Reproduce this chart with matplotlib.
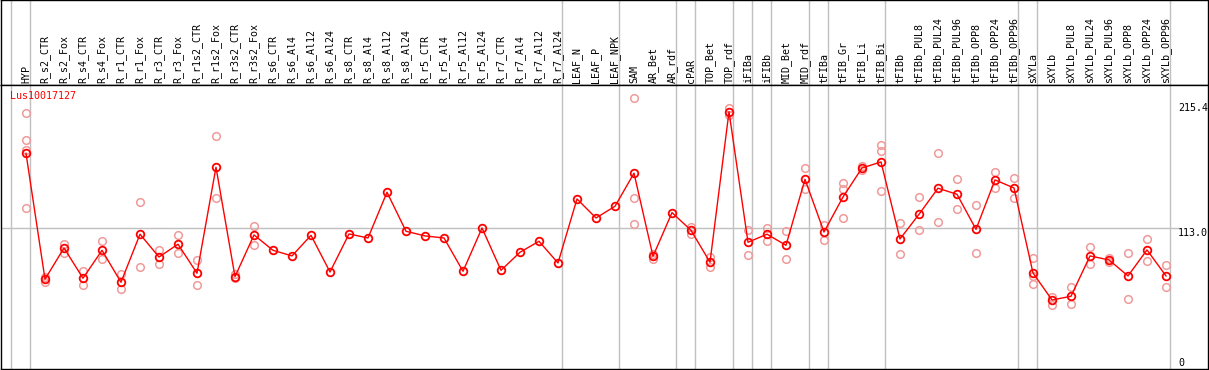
"""Expression profile of Lus10017127 across tissues and treatments."""
import matplotlib
matplotlib.use("Agg")
import matplotlib.pyplot as plt

# Sample names, left to right
samples = ["HYP",
           "R_s2_CTR", "R_s2_Fox", "R_s4_CTR", "R_s4_Fox", "R_r1_CTR",
           "R_r1_Fox", "R_r3_CTR", "R_r3_Fox", "R_r1s2_CTR", "R_r1s2_Fox",
           "R_r3s2_CTR", "R_r3s2_Fox", "R_s6_CTR", "R_s6_Al4", "R_s6_Al12",
           "R_s6_Al24", "R_s8_CTR", "R_s8_Al4", "R_s8_Al12", "R_s8_Al24",
           "R_r5_CTR", "R_r5_Al4", "R_r5_Al12", "R_r5_Al24", "R_r7_CTR",
           "R_r7_Al4", "R_r7_Al12", "R_r7_Al24",
           "LEAF_N", "LEAF_P", "LEAF_NPK",
           "SAM", "AR_Bet", "AR_rdf",
           "cPAR",
           "TOP_Bet", "TOP_rdf",
           "iFIBa",
           "iFIBb",
           "MID_Bet", "MID_rdf",
           "tFIBa",
           "tFIB_Gr", "tFIB_Li", "tFIB_Bi",
           "tFIBb", "tFIBb_PUL8", "tFIBb_PUL24", "tFIBb_PUL96",
           "tFIBb_OPP8", "tFIBb_OPP24", "tFIBb_OPP96",
           "sXYLa",
           "sXYLb", "sXYLb_PUL8", "sXYLb_PUL24", "sXYLb_PUL96",
           "sXYLb_OPP8", "sXYLb_OPP24", "sXYLb_OPP96"]

# Number of samples in each group (separated by grey lines)
group_sizes = [1, 28, 3, 3, 1, 2, 1, 1, 2, 1, 3, 7, 1, 7]

# Mean expression per sample
means = [174.3,
         71.1, 96.7, 71.9, 94.8, 68.6, 108.0, 89.3, 99.8, 76.0, 162.9,
         73.2, 107.4, 94.8, 90.2, 107.1, 77.0, 108.2, 104.9, 142.4, 110.4,
         106.6, 104.9, 77.6, 113.1, 78.4, 93.2, 102.2, 84.4,
         136.9, 121.3, 130.9,
         158.0, 89.9, 125.7,
         111.2,
         85.0, 208.4,
         101.4,
         108.0,
         98.9, 153.0,
         109.8,
         138.5, 162.3, 167.2,
         104.1, 124.3, 145.7, 140.7, 112.0, 152.5, 145.9,
         76.2,
         54.1, 57.1, 90.2, 86.9, 73.8, 95.1, 73.8]

# Individual replicates per sample (empty where only the mean is shown)
replicates = [[207.1, 185.0, 177.0, 129.3],
              [73.2, 69.1], [100.2, 92.6], [77.9, 66.1], [102.5, 87.5],
              [75.4, 62.9], [134.2, 80.9], [94.8, 83.6], [107.4, 92.4],
              [86.9, 66.1], [188.3, 137.5], [75.2, 72.4], [114.8, 98.9],
              [], [], [], [], [], [], [], [], [], [], [], [], [], [], [], [],
              [], [], [],
              [219.4, 137.5, 116.1], [91.8, 88.0], [],
              [114.2, 108.2],
              [89.6, 80.9], [211.5, 205.4],
              [111.5, 91.0],
              [113.4, 102.7],
              [110.7, 87.5], [162.0, 144.8],
              [115.8, 103.0],
              [149.8, 144.8, 121.1], [163.9, 160.7], [180.9, 176.0, 143.4],
              [117.0, 91.6], [138.5, 111.5], [174.3, 117.8], [153.3, 128.7],
              [131.7, 92.4], [159.0, 145.7], [153.9, 137.5],
              [88.5, 73.8, 67.0],
              [56.8, 50.2], [64.5, 50.6], [97.5, 83.6], [88.3, 85.5],
              [92.6, 54.7], [104.1, 85.8], [82.8, 64.8]]

gene_name = "Lus10017127"
y_labels = [215.4, 113.0, 0]

FONT = "DejaVu Sans Mono"
W, H = 1209, 370

fig = plt.figure(figsize=(W / 100, H / 100), dpi=100)
ax_top = fig.add_axes([1 / W, (H - 85) / H, 1207 / W, 85 / H])
ax = fig.add_axes([1 / W, 1 / H, 1207 / W, 284 / H])

x_min = (1 - 26) / 19
x_max = (1208 - 26) / 19
for a in (ax_top, ax):
    a.set_xlim(x_min, x_max)
    a.set_xticks([])
    a.set_yticks([])
    for spine in a.spines.values():
        spine.set_color("black")
        spine.set_linewidth(1)
ax_top.set_ylim(0, 85)
ax.set_ylim(-2.5, 230.3)

# Group separators through both panels
edges = [-1]
for size in group_sizes:
    edges.append(edges[-1] + size)
for e in edges:
    ax_top.axvline(e + 0.21, color="#c0c0c0", lw=1, zorder=0)
    ax.axvline(e + 0.21, color="#c0c0c0", lw=1, zorder=0)

ax.axhline(113.0, xmax=(1178 - 1) / 1207, color="#c0c0c0", lw=1, zorder=0)

# Sample labels
for i, name in enumerate(samples):
    ax_top.text(i, 2, name, rotation=90, ha="center", va="bottom",
                family=FONT, fontsize=7.2, color="black")

x = list(range(len(samples)))

# Replicates
for i, reps in enumerate(replicates):
    if reps:
        ax.plot([i] * len(reps), reps, linestyle="none", marker="o",
                markersize=5.5, markerfacecolor="none",
                markeredgecolor="#f09a9a", markeredgewidth=1.1, zorder=2)

# Means
ax.plot(x, means, color="#ff0000", lw=1, zorder=3)
ax.plot(x, means, linestyle="none", marker="o", markersize=5.5,
        markerfacecolor="none", markeredgecolor="#ff0000",
        markeredgewidth=1.3, zorder=4)

ax.text(-0.85, 225.0, gene_name, color="#ff0000", family=FONT,
        fontsize=7.2, ha="left", va="top")

# Value labels on the right
x_lab = (1178 - 26) / 19
ax.text(x_lab, y_labels[0], "%.1f" % y_labels[0], family=FONT,
        fontsize=7.2, ha="left", va="top", clip_on=True)
ax.text(x_lab, y_labels[1], "%.1f" % y_labels[1], family=FONT,
        fontsize=7.2, ha="left", va="top", clip_on=True)
ax.text(x_lab, y_labels[2], "%d" % y_labels[2], family=FONT,
        fontsize=7.2, ha="left", va="baseline", clip_on=True)

fig.savefig("out.png", dpi=100)
